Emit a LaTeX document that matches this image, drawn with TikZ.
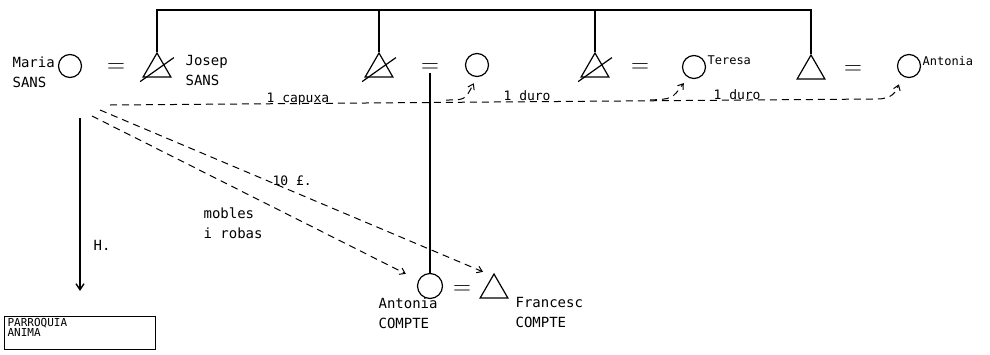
\documentclass[tikz,border=0pt]{standalone}
\usepackage{fontspec}
\setmonofont{DejaVu Sans Mono}
\usepackage{tikz}
\usetikzlibrary{arrows.meta,positioning,shapes.geometric,calc}

\begin{document}
\begin{tikzpicture}[x=1pt,y=-1pt,line width=1.2pt,
  font=\fontsize{14}{20}\selectfont\ttfamily,
  fem/.style={draw,circle,minimum size=23pt,inner sep=0pt},
  male/.style={draw,regular polygon,regular polygon sides=3,minimum size=32pt,inner sep=0pt},
  wed/.style={inner sep=0pt,font=\fontsize{26}{26}\selectfont},
  who/.style={anchor=north west,inner sep=0pt,align=left},
  gift/.style={dash pattern=on 7pt off 5pt,line width=1pt,-{Straight Barb[length=5pt,width=7pt]}},
  gifttxt/.style={anchor=base west,inner sep=0pt,font=\fontsize{13}{16}\selectfont\ttfamily}]
  \useasboundingbox (0,0) rectangle (990,354);
  % couples
  \node[fem] (maria) at (70,66) {};
  \node[wed] (eq1) at (116,68) {$=$};
  \node[male] (josep) at (157,69) {};
  \node[who] (marian) at (12,56) {Maria\\SANS};
  \node[who] (josepn) at (185,55) {Josep\\SANS};
  \node[male] (pare2) at (379,69) {};
  \node[wed] (eq2) at (430,68) {$=$};
  \node[fem] (mare2) at (477,65) {};
  \node[male] (pare3) at (595,69) {};
  \node[wed] (eq3) at (640,68) {$=$};
  \node[fem] (teresa) at (694,67) {};
  \node[who,font=\fontsize{12}{14}\selectfont\ttfamily] (teresan) at (707,55) {Teresa};
  \node[male] (pare4) at (811,71) {};
  \node[wed] (eq4) at (853,70) {$=$};
  \node[fem] (antonia) at (909,66) {};
  \node[who,font=\fontsize{12}{14}\selectfont\ttfamily] (antonian) at (922,56) {Antonia};
  \node[fem,minimum size=25pt] (antoniac) at (430,286) {};
  \node[wed] (eq5) at (462,290) {$=$};
  \node[male] (francesc) at (494,290) {};
  \node[who] (antoniacn) at (378,297) {Antonia\\COMPTE};
  \node[who] (francescn) at (515,297) {Francesc\\COMPTE};
  % parish box
  \node[draw,minimum width=151pt,minimum height=33pt,inner sep=0pt] (parr) at (80,333) {};
  \node[gifttxt,font=\fontsize{11}{12}\selectfont\ttfamily] (parrn) at (7,326) {PARROQUIA};
  \node[gifttxt,font=\fontsize{11}{12}\selectfont\ttfamily] (animan) at (7,336) {ANIMA};
  % sibship and descent
  \coordinate (sib) at (0,10);
  \draw (josep.corner 1) -- (josep.corner 1 |- sib) -- (pare4.corner 1 |- sib) -- (pare4.corner 1);
  \foreach \n in {pare2,pare3}
    \draw (\n.corner 1) -- (\n.corner 1 |- sib);
  \foreach \n in {josep,pare2,pare3}
    \draw ([shift={(-2,4)}]\n.corner 2) -- ([shift={(2,-20)}]\n.corner 3);
  \draw (eq2.south) -- (antoniac.north);
  % gifts
  \coordinate (hl) at (110,105);
  \coordinate (hr) at (877,99);
  \coordinate (b1) at (446,100);
  \coordinate (b2) at (650,100);
  \coordinate (d1) at (100,110);
  \coordinate (d2) at (92,116);
  \coordinate (hd) at (80,118);
  \draw[gift,shorten >=9pt] (hl) -- (hr) .. controls (892,99) and (896,92) .. (antonia.235);
  \draw[gift,shorten >=7pt] (b1) .. controls (465,100) .. (mare2.south);
  \draw[gift,shorten >=7pt] (b2) .. controls (672,99) .. (teresa.240);
  \draw[gift] (d1) -- ([shift={(-11,-1)}]francesc.corner 1);
  \draw[gift,shorten >=14pt] (d2) -- (antoniac);
  \draw[line width=1.4pt,-{Straight Barb[length=6pt,width=8pt]},shorten >=25pt] (hd) -- (parr);
  % labels
  \node[gifttxt] (capuxa) at (266,102) {1 capuxa};
  \node[gifttxt] (duro1) at (503,100) {1 duro};
  \node[gifttxt] (duro2) at (713,99) {1 duro};
  \node[gifttxt] (lliures) at (272,185) {10 £.};
  \node[who] (mobles) at (203,207) {mobles\\i robas};
  \node[who] (hereu) at (93,240) {H.};
\end{tikzpicture}
\end{document}
